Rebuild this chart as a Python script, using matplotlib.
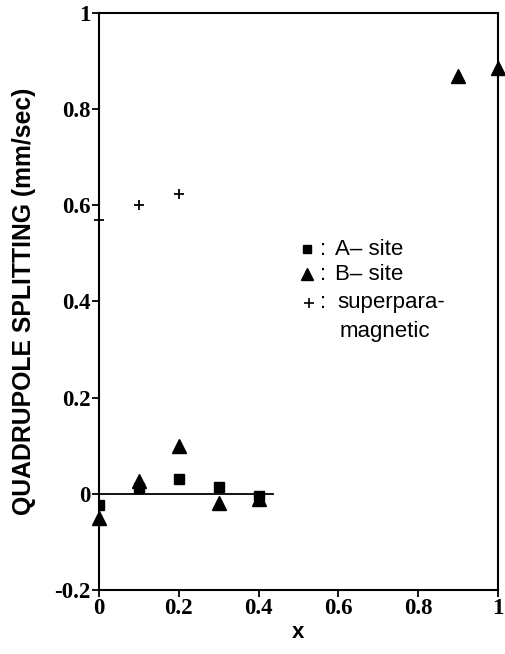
import matplotlib
matplotlib.use("Agg")
import matplotlib.pyplot as plt

# Quadrupole splitting vs composition x
a_x = [0.0, 0.1, 0.2, 0.3, 0.4]
a_qs = [-0.023, 0.012, 0.030, 0.015, -0.005]

b_x = [0.0, 0.1, 0.2, 0.3, 0.4, 0.9, 1.0]
b_qs = [-0.050, 0.027, 0.100, -0.020, -0.010, 0.870, 0.885]

sp_x = [0.0, 0.1, 0.2]
sp_qs = [0.570, 0.600, 0.624]

x_ticks = [0, 0.2, 0.4, 0.6, 0.8, 1]
x_tick_labels = ["0", "0.2", "0.4", "0.6", "0.8", "1"]
y_ticks = [-0.2, 0, 0.2, 0.4, 0.6, 0.8, 1]
y_tick_labels = ["-0.2", "0", "0.2", "0.4", "0.6", "0.8", "1"]

fig = plt.figure(figsize=(5.05, 6.54), dpi=100)
ax = fig.add_axes([0.196, 0.098, 0.790, 0.882])

ax.plot([0, 0.435], [0, 0], color="black", lw=1.3, zorder=1)
ax.plot(a_x, a_qs, ls="none", marker="s", ms=6.5, color="black", zorder=3)
ax.plot(b_x, b_qs, ls="none", marker="^", ms=9.5, color="black", zorder=2,
        clip_on=False)
ax.plot(sp_x, sp_qs, ls="none", marker="+", ms=7, mew=1.3, color="black",
        zorder=3, clip_on=False)

ax.set_xlim(0, 1)
ax.set_ylim(-0.2, 1)
ax.set_xticks(x_ticks)
ax.set_xticklabels(x_tick_labels)
ax.set_yticks(y_ticks)
ax.set_yticklabels(y_tick_labels)

for lab in ax.get_xticklabels() + ax.get_yticklabels():
    lab.set_fontfamily("Liberation Serif")
    lab.set_fontweight("bold")
    lab.set_fontsize(16.5)

ax.tick_params(direction="out", length=5, width=1.3, pad=1)
for s in ax.spines.values():
    s.set_linewidth(1.5)

ax.set_xlabel("x", family="Liberation Sans", weight="bold", fontsize=16, labelpad=2)
ax.set_ylabel("QUADRUPOLE SPLITTING (mm/sec)", family="Liberation Sans",
              weight="bold", fontsize=17.8, labelpad=13)

# Key
lg = dict(family="Liberation Sans", fontsize=16, va="center", ha="left")
ax.plot([0.521], [0.509], marker="s", ms=5.5, color="black", ls="none")
ax.plot([0.521], [0.457], marker="^", ms=8, color="black", ls="none")
ax.plot([0.527], [0.397], marker="+", ms=7, mew=1.2, color="black", ls="none")
ax.text(0.555, 0.509, ":", **lg)
ax.text(0.555, 0.457, ":", **lg)
ax.text(0.555, 0.397, ":", **lg)
ax.text(0.592, 0.509, "A\u2013 site", **lg)
ax.text(0.592, 0.457, "B\u2013 site", **lg)
ax.text(0.597, 0.397, "superpara-", **lg)
ax.text(0.603, 0.337, "magnetic", **lg)

fig.savefig("out.png", dpi=100)
